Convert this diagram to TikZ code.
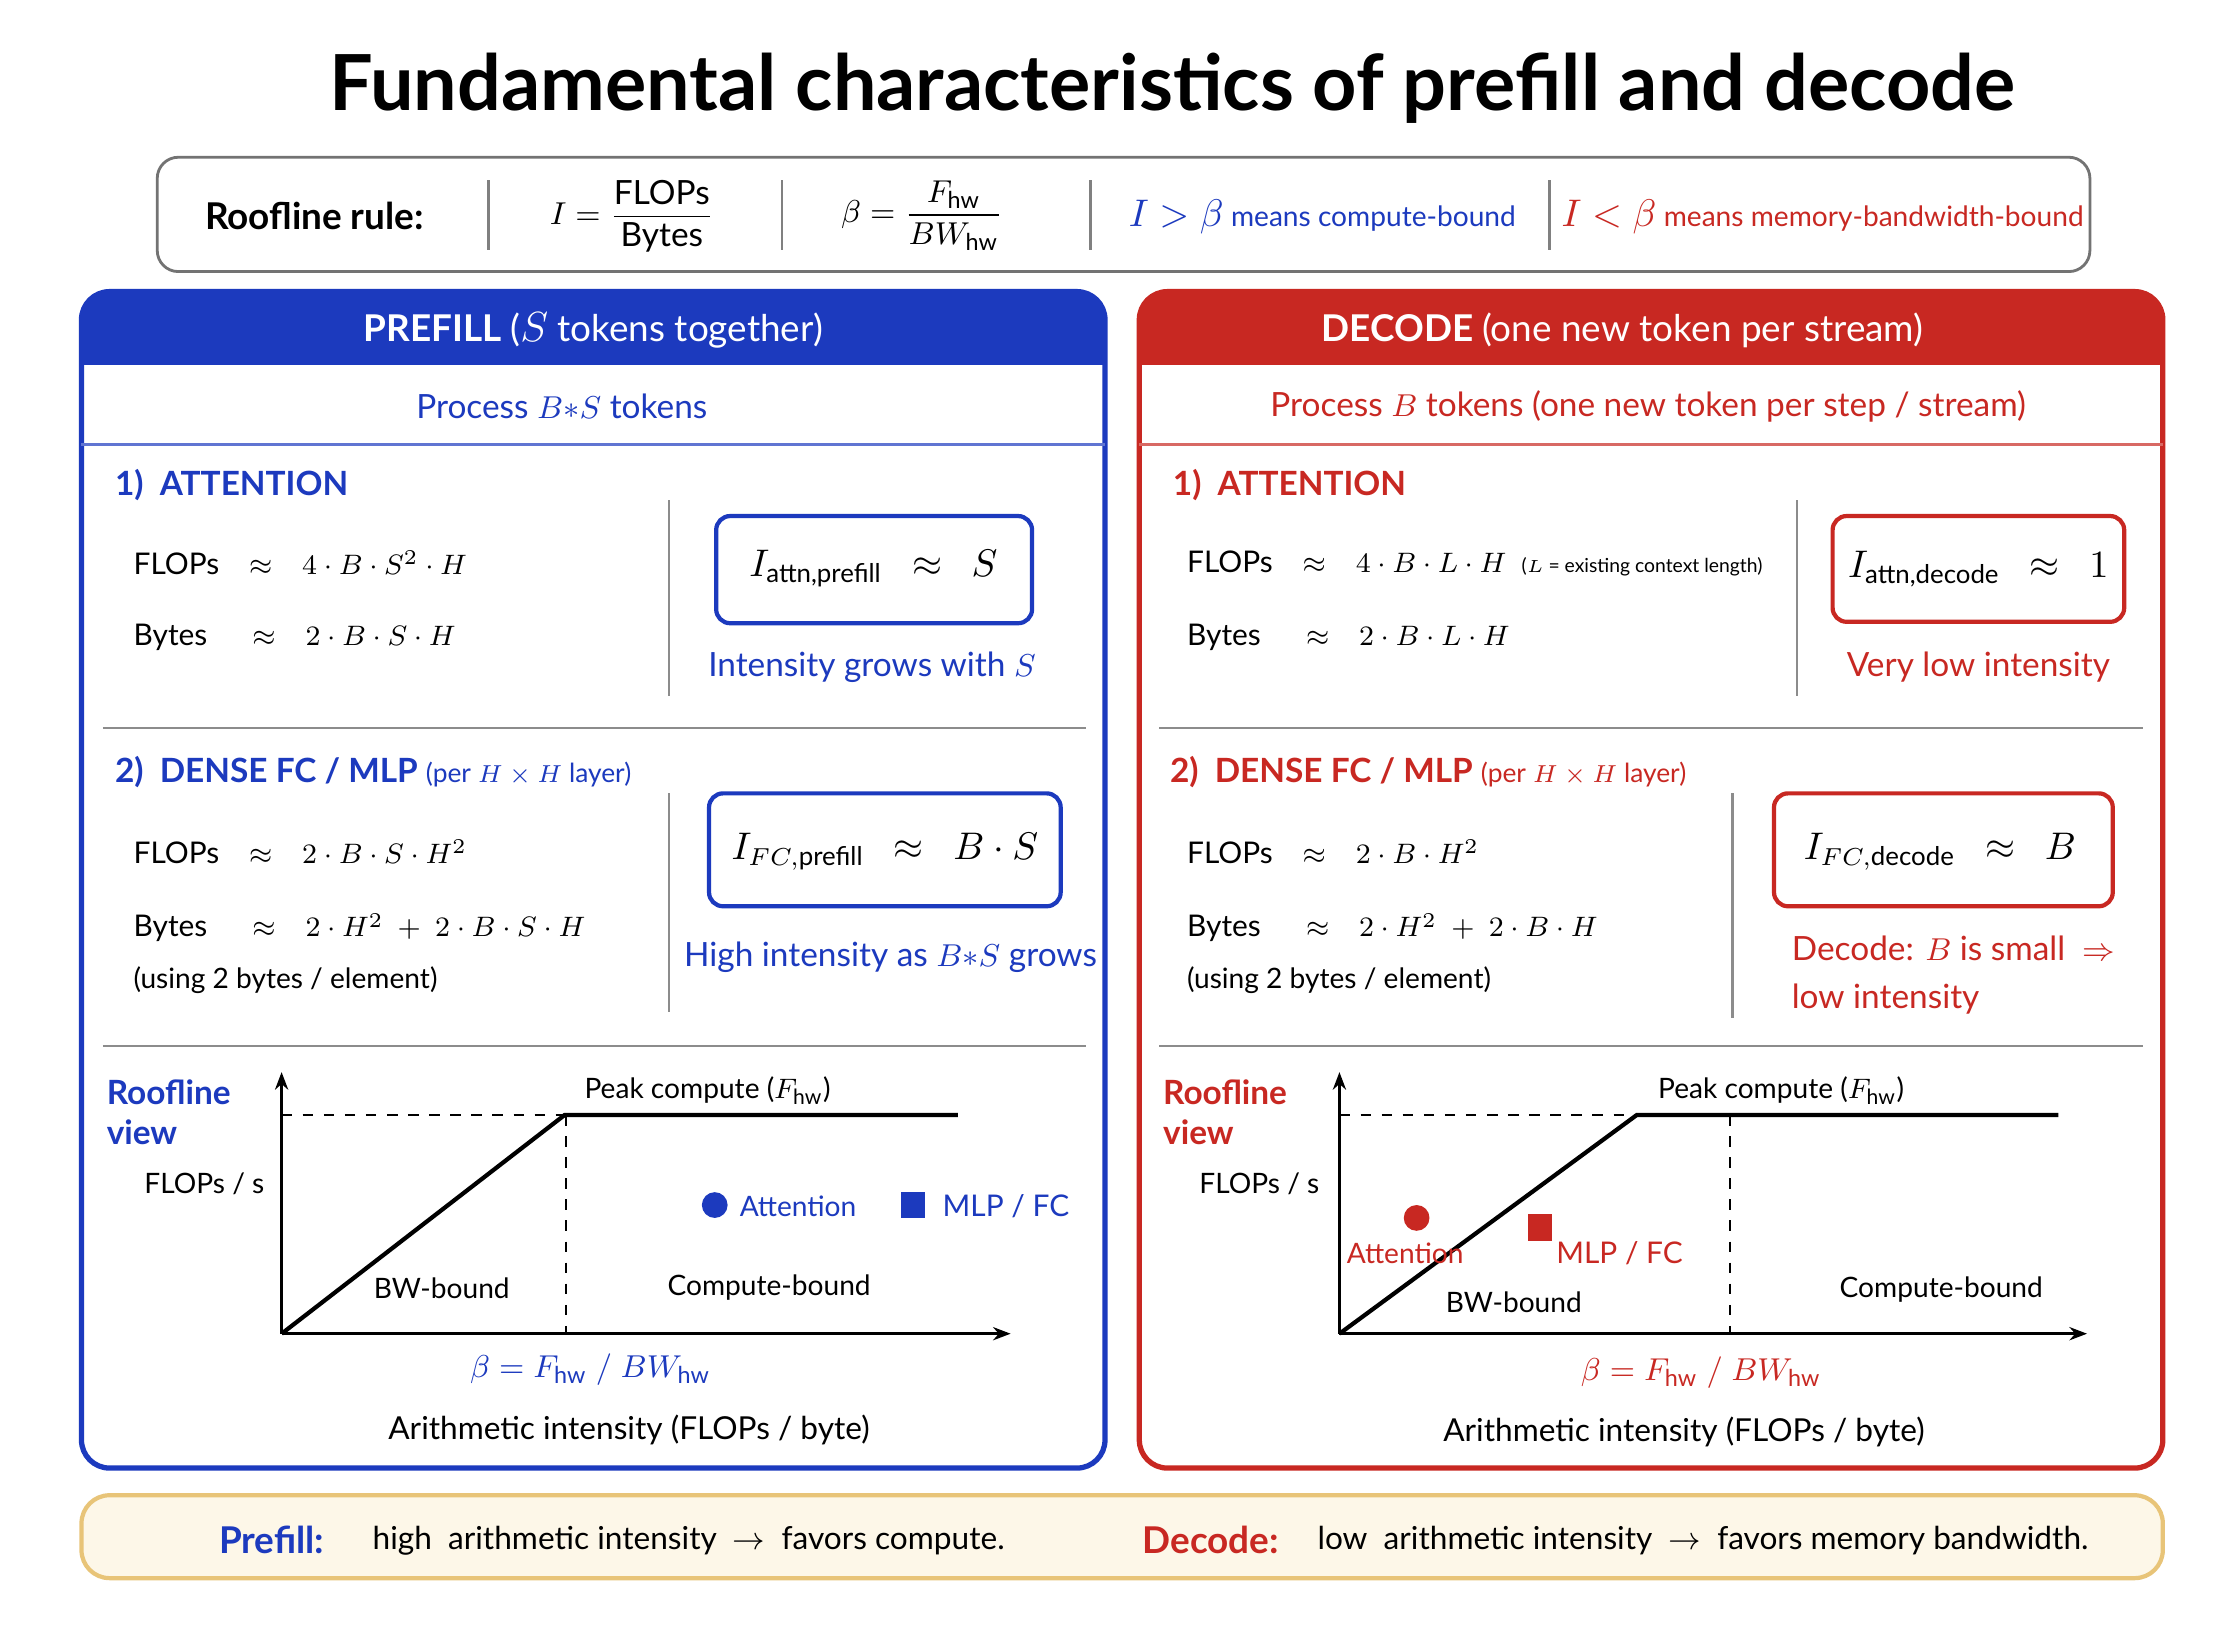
\documentclass[tikz,border=0pt]{standalone}
\usepackage{fontspec}
\setmainfont{Lato}
\usepackage{amsmath}
\usetikzlibrary{arrows.meta}
\definecolor{pblue}{RGB}{28,58,190}
\definecolor{dred}{RGB}{200,40,34}
\definecolor{cream}{RGB}{253,247,232}
\definecolor{gold}{RGB}{232,196,120}
\newcommand{\fs}[1]{\fontsize{#1}{#1}\selectfont}
\tikzset{
 txt/.style={font=\fs{8.5}, inner sep=0pt},
 hdr/.style={font=\fs{10.5}\bfseries, text=white},
 sec/.style={font=\fs{9.5}\bfseries, anchor=west, inner sep=0pt},
 ibox/.style={draw, line width=1.2pt, rounded corners=4pt},
 sep/.style={draw=black!45, line width=0.6pt},
 axis/.style={line width=1pt, -{Stealth[length=5pt]}},
 roof/.style={line width=1.2pt},
 dsh/.style={dashed, line width=0.5pt},
}
\begin{document}
\begin{tikzpicture}[x=0.014295cm,y=-0.014295cm]
\useasboundingbox (0,0) rectangle (1560,1137);
\fill[white] (0,0) rectangle (1560,1137);
\node[font=\fs{22}\bfseries] (title) at (820,62) {Fundamental characteristics of prefill and decode};
% rule box
\draw[black!55, line width=0.8pt, rounded corners=6pt] (110,110) rectangle (1462,190);
\node[font=\fs{10.5}\bfseries] (rr) at (220,151) {Roofline rule:};
\node[font=\fs{9.5}] (ri) at (442,151) {$I=\dfrac{\text{FLOPs}}{\text{Bytes}}$};
\node[font=\fs{9.5}] (rb) at (645,151) {$\beta=\dfrac{F_{\text{hw}}}{BW_{\text{hw}}}$};
\node[font=\fs{8}, text=pblue] (rc) at (925,152) {\fs{10.5}$I>\beta$\fs{8} means compute-bound};
\node[font=\fs{8}, text=dred] (rm) at (1275,152) {\fs{10.5}$I<\beta$\fs{8} means memory-bandwidth-bound};
\foreach \x in {342,547,763,1084} \draw[black!50, line width=0.8pt] (\x,126) -- (\x,175);
% ===== panels
\foreach \xo/\c in {57/pblue, 797/dred} {
 \fill[\c, rounded corners=8pt] (\xo,204) rectangle (\xo+716,262);
 \fill[\c] (\xo,240) rectangle (\xo+716,255);
 \fill[white] (\xo+1.5,255) rectangle (\xo+714.5,262);
 \draw[\c, line width=1.5pt, rounded corners=8pt] (\xo,204) rectangle (\xo+716,1027);
 \draw[\c!70, line width=0.8pt] (\xo,311) -- (\xo+716,311);
}
% ===== LEFT
\node[hdr] (lh) at (415,231) {PREFILL \mdseries(\textit{\fs{11.5}$S$} tokens together)};
\node[font=\fs{9.5}, text=pblue] (lp) at (393,284) {Process $B{*}S$ tokens};
\node[sec, text=pblue] (la) at (80,339) {1)\ \ ATTENTION};
\node[txt, anchor=west] (lf1) at (93,394) {FLOPs\quad $\approx$\quad $4\cdot B\cdot S^2\cdot H$};
\node[txt, anchor=west] (lb1) at (93,446) {Bytes\quad\ \ $\approx$\quad $2\cdot B\cdot S\cdot H$};
\draw[sep] (468,350) -- (468,487);
\draw[ibox, pblue] (501,361) rectangle (722,436);
\node[font=\fs{10.5}] (li1) at (611,398) {$I_{\text{attn,prefill}}\ \ \approx\ \ S$};
\node[txt, text=pblue, font=\fs{9.5}] (lt1) at (610,467) {Intensity grows with $S$};
\draw[sep] (72,509) -- (760,509);
\node[sec, text=pblue] (lm) at (80,540) {2)\ \ DENSE FC / MLP \fs{7.5}\mdseries(per $H\times H$ layer)};
\node[txt, anchor=west] (lf2) at (93,596) {FLOPs\quad $\approx$\quad $2\cdot B\cdot S\cdot H^2$};
\node[txt, anchor=west] (lb2) at (93,649) {Bytes\quad\ \ $\approx$\quad $2\cdot H^2\ +\ 2\cdot B\cdot S\cdot H$};
\node[txt, anchor=west, font=\fs{8}] (lu) at (93,686) {(using 2 bytes / element)};
\draw[sep] (468,555) -- (468,708);
\draw[ibox, pblue] (496,555) rectangle (742,634);
\node[font=\fs{10.5}] (li2) at (619,596) {$I_{FC,\text{prefill}}\ \ \approx\ \ B\cdot S$};
\node[text=pblue, font=\fs{9.5}, inner sep=0pt] (lt2) at (623,670) {High intensity as $B{*}S$ grows};
\draw[sep] (72,732) -- (760,732);
\node[font=\fs{9.5}\bfseries, text=pblue, anchor=west, align=left] (lrv) at (66,778) {Roofline\\[2pt]view};
\coordinate (lo) at (197,933);
\coordinate (ly) at (197,750);
\coordinate (lx) at (707,933);
\coordinate (lk) at (395,780);
\coordinate (le) at (670,780);
\draw[axis] (lo) -- (ly);
\draw[axis] (lo) -- (lx);
\draw[dsh] (197,780) -- (lk);
\draw[dsh] (396,780) -- (396,933);
\draw[roof] (lo) -- (lk) -- (le);
\node[txt, font=\fs{8}] (lpk) at (495,763) {Peak compute ($F_{\text{hw}}$)};
\node[txt, font=\fs{8}] (lfs) at (143,828) {FLOPs / s};
\fill[pblue] (500,843) circle (9);
\node[txt, text=pblue, font=\fs{8}, anchor=west] (lat) at (517,844) {Attention};
\fill[pblue] (630,834) rectangle (647,852);
\node[txt, text=pblue, font=\fs{8.5}, anchor=west] (lml) at (659,844) {MLP / FC};
\node[txt, font=\fs{8}] (lbw) at (309,901) {BW-bound};
\node[txt, font=\fs{8}] (lcb) at (538,901) {Compute-bound};
\node[txt, text=pblue, font=\fs{9.5}] (lbe) at (413,958) {$\beta=F_{\text{hw}}\ /\ BW_{\text{hw}}$};
\node[txt, font=\fs{9}] (lar) at (440,1000) {Arithmetic intensity (FLOPs / byte)};
% ===== RIGHT
\node[hdr] (rh) at (1135,231) {DECODE \mdseries(one new token per stream)};
\node[font=\fs{9.5}, text=dred] (rp) at (1153,284) {Process $B$ tokens (one new token per step / stream)};
\node[sec, text=dred] (ra) at (820,339) {1)\ \ ATTENTION};
\node[txt, anchor=west] (rf1) at (830,394) {FLOPs\quad $\approx$\quad $4\cdot B\cdot L\cdot H$\ \ \fs{5.5}($L$ = existing context length)};
\node[txt, anchor=west] (rb1) at (830,446) {Bytes\quad\ \ $\approx$\quad $2\cdot B\cdot L\cdot H$};
\draw[sep] (1257,350) -- (1257,487);
\draw[ibox, dred] (1282,361) rectangle (1486,435);
\node[font=\fs{10.5}] (ri1) at (1384,398) {$I_{\text{attn,decode}}\ \ \approx\ \ 1$};
\node[text=dred, font=\fs{9.5}, inner sep=0pt] (rt1) at (1384,467) {Very low intensity};
\draw[sep] (811,509) -- (1499,509);
\node[sec, text=dred] (rm2) at (818,540) {2)\ \ DENSE FC / MLP \fs{7.5}\mdseries(per $H\times H$ layer)};
\node[txt, anchor=west] (rf2) at (830,596) {FLOPs\quad $\approx$\quad $2\cdot B\cdot H^2$};
\node[txt, anchor=west] (rb2) at (830,649) {Bytes\quad\ \ $\approx$\quad $2\cdot H^2\ +\ 2\cdot B\cdot H$};
\node[txt, anchor=west, font=\fs{8}] (ru) at (830,686) {(using 2 bytes / element)};
\draw[sep] (1212,555) -- (1212,712);
\draw[ibox, dred] (1241,555) rectangle (1478,634);
\node[font=\fs{10.5}] (ri2) at (1357,596) {$I_{FC,\text{decode}}\ \ \approx\ \ B$};
\node[text=dred, font=\fs{9.5}, anchor=west, align=left, inner sep=0pt] (rt2) at (1253,682) {Decode: $B$ is small\ \ $\Rightarrow$\\[4pt]low intensity};
\draw[sep] (811,732) -- (1499,732);
\node[font=\fs{9.5}\bfseries, text=dred, anchor=west, align=left] (rrv) at (805,778) {Roofline\\[2pt]view};
\coordinate (ro) at (937,933);
\coordinate (ry) at (937,750);
\coordinate (rx) at (1460,933);
\coordinate (rk) at (1145,780);
\coordinate (re) at (1440,780);
\draw[axis] (ro) -- (ry);
\draw[axis] (ro) -- (rx);
\draw[dsh] (937,780) -- (rk);
\draw[dsh] (1210,780) -- (1210,933);
\draw[roof] (ro) -- (rk) -- (re);
\node[txt, font=\fs{8}] (rpk) at (1246,763) {Peak compute ($F_{\text{hw}}$)};
\node[txt, font=\fs{8}] (rfs) at (881,828) {FLOPs / s};
\fill[dred] (991,852) circle (9);
\node[txt, text=dred, font=\fs{8}] (rat) at (983,877) {Attention};
\fill[dred] (1069,849) rectangle (1086,868);
\node[txt, text=dred, font=\fs{8.5}] (rml) at (1133,877) {MLP / FC};
\node[txt, font=\fs{8}] (rbw) at (1059,911) {BW-bound};
\node[txt, font=\fs{8}] (rcb) at (1358,902) {Compute-bound};
\node[txt, text=dred, font=\fs{9.5}] (rbe) at (1190,960) {$\beta=F_{\text{hw}}\ /\ BW_{\text{hw}}$};
\node[txt, font=\fs{9}] (rar) at (1178,1002) {Arithmetic intensity (FLOPs / byte)};
% ===== bottom
\draw[gold, fill=cream, line width=1.2pt, rounded corners=8pt] (57,1046) rectangle (1513,1104);
\node[font=\fs{10.5}\bfseries, text=pblue] (bp) at (190,1077) {Prefill:};
\node[font=\fs{9}, anchor=west] (bpt) at (252,1078) {high\ \ arithmetic intensity\ \ $\rightarrow$\ \ favors compute.};
\node[font=\fs{10.5}\bfseries, text=dred] (bd) at (847,1077) {Decode:};
\node[font=\fs{9}, anchor=west] (bdt) at (913,1078) {low\ \ arithmetic intensity\ \ $\rightarrow$\ \ favors memory bandwidth.};
\end{tikzpicture}
\end{document}
